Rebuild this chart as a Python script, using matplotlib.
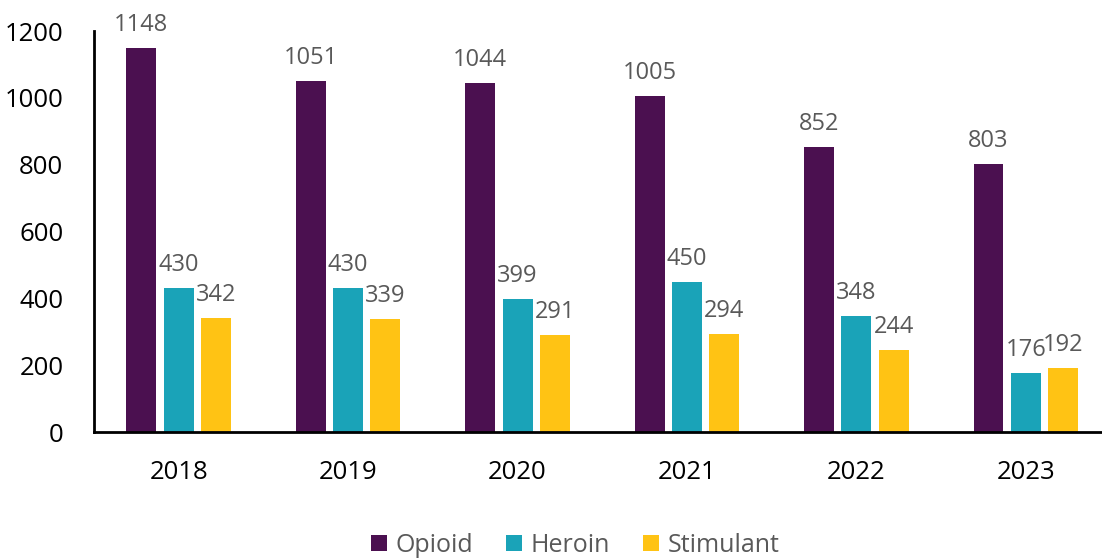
import numpy as np
import matplotlib.pyplot as plt

plt.rcParams['font.family'] = ['Open Sans', 'DejaVu Sans']

years = ["2018", "2019", "2020", "2021", "2022", "2023"]
opioid = [1148, 1051, 1044, 1005, 852, 803]
heroin = [430, 430, 399, 450, 348, 176]
stimulant = [342, 339, 291, 294, 244, 192]

series = [("Opioid", opioid, "#4b1050"),
          ("Heroin", heroin, "#1aa3b8"),
          ("Stimulant", stimulant, "#ffc314")]

fig = plt.figure(figsize=(11.02, 5.58), dpi=100)
ax = fig.add_axes([0.0853, 0.2258, 0.9147, 0.7186])

x = np.arange(len(years))
w = 0.177
step = 0.22
for i, (name, vals, col) in enumerate(series):
    bars = ax.bar(x + (i - 1) * step, vals, w, color=col, label=name)
    ax.bar_label(bars, padding=8, fontsize=17, color="#595959")

ax.set_xlim(-0.5, 5.45)
ax.set_ylim(0, 1200)
ax.set_yticks(range(0, 1201, 200))
ax.set_xticks(x)
ax.set_xticklabels(years)
ax.tick_params(axis="both", length=0, labelsize=18.5, colors="black")
ax.tick_params(axis="x", pad=20)
ax.tick_params(axis="y", pad=22)
ax.spines["top"].set_visible(False)
ax.spines["right"].set_visible(False)
ax.spines["left"].set_linewidth(2)
ax.spines["bottom"].set_linewidth(2)

ax.legend(loc="lower center", bbox_to_anchor=(0.5 - 0.0853 / 0.9147 / 2 + 0.024, -0.37),
          ncol=3, frameon=False, fontsize=18, labelcolor="#595959",
          handlelength=0.65, handleheight=0.65, handletextpad=0.35, columnspacing=1.3)

fig.savefig("out.png", dpi=100)
